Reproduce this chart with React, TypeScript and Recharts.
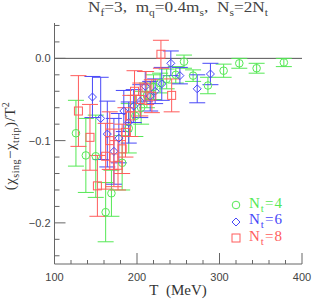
import React from 'react';
import { ScatterChart, Scatter, XAxis, YAxis, ErrorBar, ReferenceLine, Legend } from 'recharts';

// N_t = 4 (green circles)
const nt4T = [126, 138, 150, 162, 169, 182, 190, 198, 205, 212, 220, 228, 236, 247, 257, 268, 286, 305, 324, 345, 378];
const nt4Y = [-0.091, -0.118, -0.119, -0.187, -0.164, -0.127, -0.085, -0.07, -0.06, -0.045, -0.035, -0.03, -0.025, -0.02, -0.004, -0.021, -0.033, -0.015, -0.006, -0.012, -0.005];
const nt4Err = [0.04, 0.045, 0.05, 0.036, 0.028, 0.033, 0.03, 0.025, 0.02, 0.015, 0.015, 0.012, 0.012, 0.01, 0.008, 0.007, 0.01, 0.008, 0.006, 0.006, 0.005];

// N_t = 6 (blue diamonds)
const nt6T = [146, 156, 164, 172, 178, 184, 190, 196, 204, 210, 216, 222, 230, 241, 252, 273, 289];
const nt6Y = [-0.047, -0.073, -0.092, -0.113, -0.097, -0.064, -0.078, -0.058, -0.052, -0.034, -0.046, -0.04, -0.031, -0.006, -0.021, -0.037, -0.019];
const nt6Err = [0.025, 0.05, 0.04, 0.04, 0.03, 0.025, 0.025, 0.02, 0.02, 0.018, 0.018, 0.015, 0.02, 0.015, 0.01, 0.017, 0.013];

// N_t = 8 (red squares)
const nt8T = [129, 143, 152, 162, 167, 172, 177, 182, 186, 192, 197, 204, 211, 218, 229, 242];
const nt8Y = [-0.064, -0.096, -0.155, -0.119, -0.1, -0.121, -0.13, -0.11, -0.09, -0.07, -0.04, -0.05, -0.036, -0.046, 0.005, -0.045];
const nt8Err = [0.043, 0.04, 0.037, 0.04, 0.035, 0.035, 0.03, 0.03, 0.03, 0.025, 0.025, 0.02, 0.02, 0.02, 0.017, 0.02];

const xTicks = [100, 120, 140, 160, 180, 200, 220, 240, 260, 280, 300, 320, 340, 360, 380, 400];
const yTicks = [-0.24, -0.22, -0.2, -0.18, -0.16, -0.14, -0.12, -0.1, -0.08, -0.06, -0.04, -0.02, 0, 0.02, 0.04];
const xDomain = [100, 400];
const yDomain = [-0.25, 0.043];

const GREEN = '#55e855';
const BLUE = '#4848f8';
const RED = '#ff5c5c';
const FRAME = '#666';
const LABEL = '#444';
const SERIF = 'Liberation Serif, Times New Roman, serif';

const build = (t: number[], y: number[], e: number[]) => t.map((v, i) => ({ T: v, y: y[i], err: e[i] }));
const data4 = build(nt4T, nt4Y, nt4Err);
const data6 = build(nt6T, nt6Y, nt6Err);
const data8 = build(nt8T, nt8Y, nt8Err);

const isMajorX = (v: number) => Math.abs(v % 100) < 1e-6;
const isMajorY = (v: number) => Math.abs(v * 10 - Math.round(v * 10)) < 1e-6;
const fmtY = (v: number) => {
  const s = Math.abs(v).toFixed(1);
  return v < -1e-9 ? '\u2212' + s : s;
};

const BottomTick = (p: any) => {
  const v = p.payload.value;
  const major = isMajorX(v);
  return (
    <g>
      <line x1={p.x} y1={p.y} x2={p.x} y2={p.y - (major ? 11 : 4)} stroke={FRAME} />
      {major && (
        <text x={p.x} y={p.y + 17} textAnchor="middle" fontSize={11} fill={LABEL} fontFamily="Liberation Sans, Arial, sans-serif">
          {v}
        </text>
      )}
    </g>
  );
};
const TopTick = (p: any) => {
  const v = p.payload.value;
  const major = isMajorX(v);
  return <line x1={p.x} y1={p.y} x2={p.x} y2={p.y + (major ? 11 : 4)} stroke={FRAME} />;
};
const LeftTick = (p: any) => {
  const v = p.payload.value;
  const major = isMajorY(v);
  return (
    <g>
      <line x1={p.x} y1={p.y} x2={p.x + (major ? 11 : 5)} y2={p.y} stroke={FRAME} />
      {major && (
        <text x={p.x - 4} y={p.y + 4} textAnchor="end" fontSize={11} fill={LABEL} fontFamily="Liberation Sans, Arial, sans-serif">
          {fmtY(v)}
        </text>
      )}
    </g>
  );
};
const RightTick = (p: any) => {
  const v = p.payload.value;
  const major = isMajorY(v);
  return <line x1={p.x} y1={p.y} x2={p.x - (major ? 11 : 5)} y2={p.y} stroke={FRAME} />;
};

const CircleShape = (p: any) => <circle cx={p.cx} cy={p.cy} r={3.8} fill="none" stroke={GREEN} strokeWidth={1} />;
const DiamondShape = (p: any) => (
  <path d={`M${p.cx},${p.cy - 4}L${p.cx + 4},${p.cy}L${p.cx},${p.cy + 4}L${p.cx - 4},${p.cy}Z`} fill="none" stroke={BLUE} strokeWidth={1} />
);
const SquareShape = (p: any) => <rect x={p.cx - 4} y={p.cy - 4} width={8} height={8} fill="none" stroke={RED} strokeWidth={1} />;

const legendItems = [
  { key: '4', color: GREEN, kind: 'circle' },
  { key: '6', color: BLUE, kind: 'diamond' },
  { key: '8', color: RED, kind: 'square' },
];

const LegendContent = () => (
  <div style={{ fontFamily: SERIF, fontSize: 15, lineHeight: '16.5px' }}>
    {legendItems.map((it) => (
      <div key={it.key} style={{ display: 'flex', alignItems: 'center', height: 16.5, color: it.color, whiteSpace: 'nowrap' }}>
        <svg width={12} height={12} style={{ marginRight: 7 }}>
          {it.kind === 'circle' && <circle cx={6} cy={6} r={3.8} fill="none" stroke={it.color} />}
          {it.kind === 'diamond' && <path d="M6,2L10,6L6,10L2,6Z" fill="none" stroke={it.color} />}
          {it.kind === 'square' && <rect x={2} y={2} width={8} height={8} fill="none" stroke={it.color} />}
        </svg>
        <span style={{ letterSpacing: 1 }}>
          N<sub style={{ fontSize: 11 }}>t</sub>={it.key}
        </span>
      </div>
    ))}
  </div>
);

export default function App() {
  return (
    <div style={{ position: 'relative', width: 312, height: 303, background: '#fff' }}>
      <style>{`body{margin:0}`}</style>
      <ScatterChart width={312} height={303} margin={{ top: 23, right: 10, bottom: 0, left: 0 }}>
        <XAxis
          xAxisId="b"
          dataKey="T"
          type="number"
          domain={xDomain}
          ticks={xTicks}
          interval={0}
          allowDataOverflow
          orientation="bottom"
          height={39}
          tickSize={0}
          tickMargin={0}
          tickLine={false}
          axisLine={{ stroke: FRAME }}
          tick={BottomTick}
        />
        <XAxis
          xAxisId="t"
          dataKey="T"
          type="number"
          domain={xDomain}
          ticks={xTicks}
          interval={0}
          allowDataOverflow
          orientation="top"
          height={0}
          tickSize={0}
          tickMargin={0}
          tickLine={false}
          axisLine={{ stroke: FRAME }}
          tick={TopTick}
        />
        <YAxis
          yAxisId="l"
          dataKey="y"
          type="number"
          domain={yDomain}
          ticks={yTicks}
          interval={0}
          allowDataOverflow
          orientation="left"
          width={54.5}
          tickSize={0}
          tickMargin={0}
          tickLine={false}
          axisLine={{ stroke: FRAME }}
          tick={LeftTick}
        />
        <YAxis
          yAxisId="r"
          dataKey="y"
          type="number"
          domain={yDomain}
          ticks={yTicks}
          interval={0}
          allowDataOverflow
          orientation="right"
          width={0}
          tickSize={0}
          tickMargin={0}
          tickLine={false}
          axisLine={{ stroke: FRAME }}
          tick={RightTick}
        />
        <ReferenceLine xAxisId="b" yAxisId="l" y={0} stroke="#555" strokeWidth={1} />
        <Scatter name="Nt=4" data={data4} xAxisId="b" yAxisId="l" shape={CircleShape} isAnimationActive={false}>
          <ErrorBar dataKey="err" direction="y" width={8} stroke={GREEN} strokeWidth={1} />
        </Scatter>
        <Scatter name="Nt=6" data={data6} xAxisId="b" yAxisId="l" shape={DiamondShape} isAnimationActive={false}>
          <ErrorBar dataKey="err" direction="y" width={8} stroke={BLUE} strokeWidth={1} />
        </Scatter>
        <Scatter name="Nt=8" data={data8} xAxisId="b" yAxisId="l" shape={SquareShape} isAnimationActive={false}>
          <ErrorBar dataKey="err" direction="y" width={8} stroke={RED} strokeWidth={1} />
        </Scatter>
        <Legend
          layout="horizontal"
          verticalAlign="middle"
          align="center"
          content={LegendContent}
          wrapperStyle={{ position: 'absolute', left: 230, top: 197, width: 80, height: 52 }}
        />
      </ScatterChart>
      <div
        style={{
          position: 'absolute',
          left: 54,
          width: 248,
          top: -1,
          textAlign: 'center',
          fontFamily: SERIF,
          fontSize: 15,
          color: '#444',
          whiteSpace: 'nowrap',
          lineHeight: '16px',
          transform: 'scaleX(1.15)',
        }}
      >
        N<sub style={{ fontSize: 10 }}>f</sub>=3,&nbsp;&nbsp;m<sub style={{ fontSize: 10 }}>q</sub>=0.4m<sub style={{ fontSize: 10 }}>s</sub>,&nbsp;&nbsp;N<sub style={{ fontSize: 10 }}>s</sub>=2N<sub style={{ fontSize: 10 }}>t</sub>
      </div>
      <div
        style={{
          position: 'absolute',
          left: 54,
          width: 248,
          top: 281,
          textAlign: 'center',
          fontFamily: SERIF,
          fontSize: 15,
          color: '#333',
          whiteSpace: 'nowrap',
          lineHeight: '18px',
        }}
      >
        T&nbsp;&nbsp;(MeV)
      </div>
      <div
        style={{
          position: 'absolute',
          left: 11,
          top: 146,
          transform: 'translate(-50%, -50%) rotate(-90deg)',
          fontFamily: SERIF,
          fontSize: 15,
          letterSpacing: 0.5,
          color: '#333',
          whiteSpace: 'nowrap',
          lineHeight: '16px',
        }}
      >
        (χ<sub style={{ fontSize: 10 }}>sing</sub>−χ<sub style={{ fontSize: 10 }}>trip</sub>)/T<sup style={{ fontSize: 10 }}>2</sup>
      </div>
    </div>
  );
}
